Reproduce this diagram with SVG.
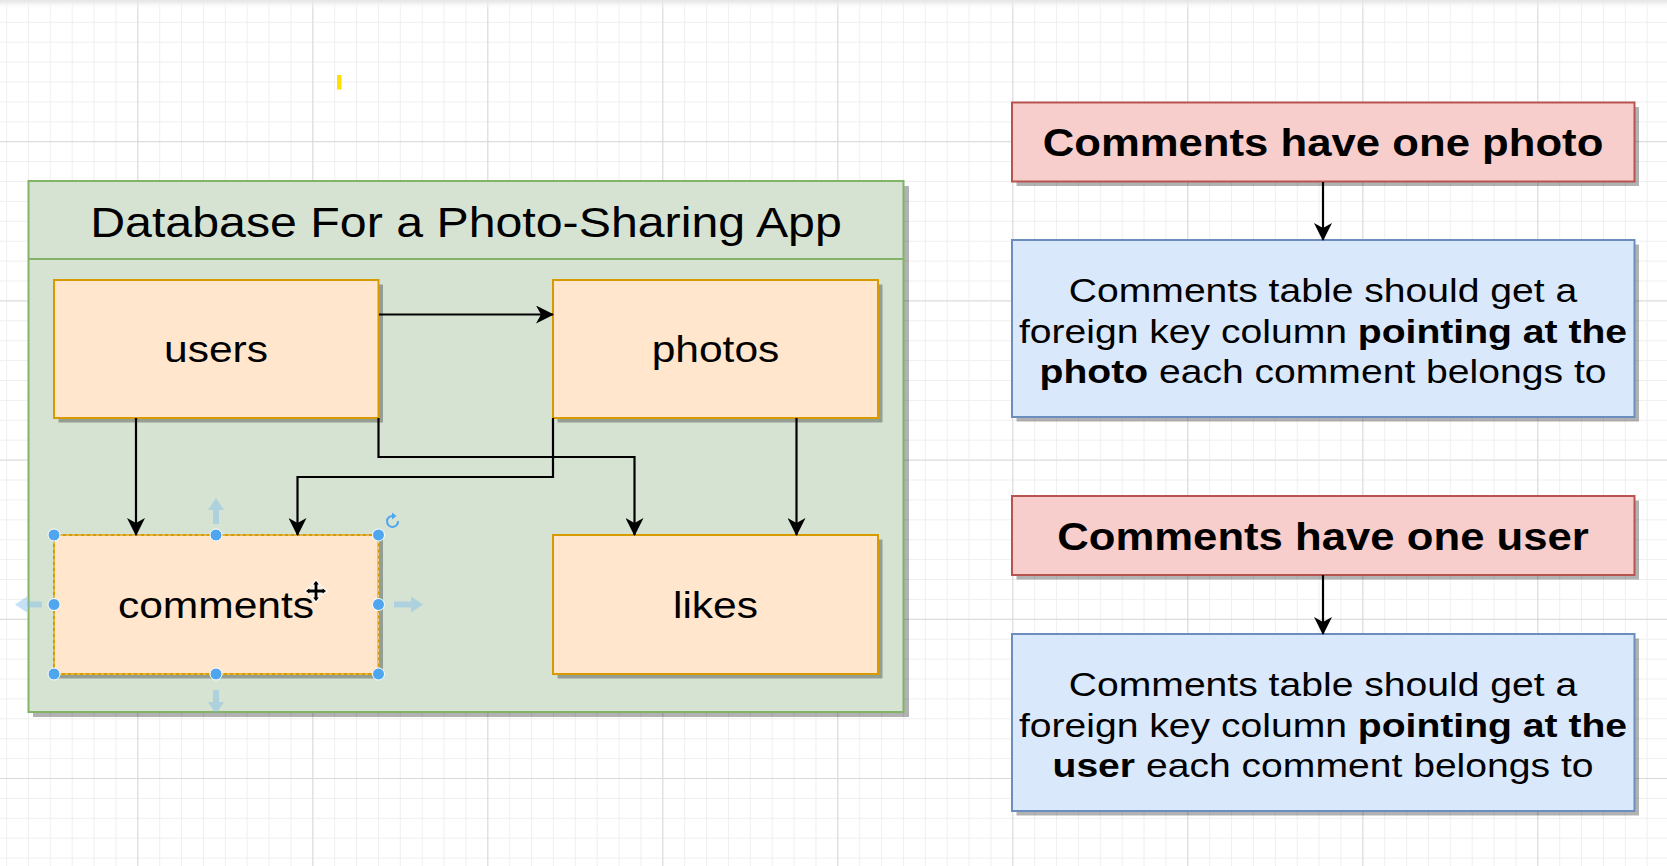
<svg xmlns="http://www.w3.org/2000/svg" width="1667" height="866" viewBox="0 0 1667 866">
<defs>
<style>
.lbl{font-family:"Liberation Sans",Arial,Helvetica,sans-serif;fill:#000;text-anchor:middle}
.tbl{fill:#ffe6cc;stroke:#d79b00;stroke-width:2}
.shadow{fill:#000;fill-opacity:0.3}
.red{fill:#f8cecc;stroke:#b85450;stroke-width:2}
.blue{fill:#dae8fc;stroke:#6c8ebf;stroke-width:2}
.conn{fill:none;stroke:#000;stroke-width:2.2;marker-end:url(#arr)}
.handle{fill:#4fa6ee;stroke:#fff;stroke-width:1}
.hover{fill:#7fbde8;fill-opacity:0.45}
</style>
<marker id="arr" viewBox="0 0 18 18" refX="17" refY="9" markerWidth="19" markerHeight="18" markerUnits="userSpaceOnUse" orient="auto">
<path d="M0,0 L18,9 L0,18 L5,9 Z" fill="#000"/>
</marker>
<pattern id="gMinor" width="21.875" height="19.9" patternUnits="userSpaceOnUse" x="6.05" y="1.9">
<path d="M0.5,0 V19.9 M0,0.5 H21.875" stroke="#efefef" stroke-width="1" fill="none"/>
</pattern>
<pattern id="gMajor" width="175" height="159.2" patternUnits="userSpaceOnUse" x="137.3" y="141.2">
<path d="M0.5,0 V159.2 M0,0.5 H175" stroke="#d9d9d9" stroke-width="1" fill="none"/>
</pattern>
<linearGradient id="topShade" x1="0" y1="0" x2="0" y2="1">
<stop offset="0" stop-color="#e4e4e4"/>
<stop offset="1" stop-color="#ffffff" stop-opacity="0"/>
</linearGradient>
</defs>

<rect width="1667" height="866" fill="#ffffff"/>
<rect width="1667" height="866" fill="url(#gMinor)"/>
<rect width="1667" height="866" fill="url(#gMajor)"/>
<rect width="1667" height="10" fill="url(#topShade)"/>
<rect x="337" y="75" width="4.5" height="14.5" fill="#ffe000"/>

<g id="container">
<rect x="33" y="186" width="876" height="531" class="shadow"/>
<rect x="28.5" y="181" width="875" height="531" fill="#d6e3d3" stroke="#82b366" stroke-width="2"/>
<line x1="28.5" y1="259" x2="903.5" y2="259" stroke="#82b366" stroke-width="2"/>
<text class="lbl" font-size="42" transform="translate(466,237) scale(1.15,1)">Database For a Photo-Sharing App</text>
</g>

<g id="users">
<rect x="58.5" y="284.5" width="324.5" height="138" class="shadow"/>
<rect x="54" y="280" width="324.5" height="138" class="tbl"/>
<text class="lbl" font-size="37" transform="translate(216,362) scale(1.15,1)">users</text>
</g>

<g id="photos">
<rect x="557.5" y="284.5" width="325" height="138" class="shadow"/>
<rect x="553" y="280" width="325" height="138" class="tbl"/>
<text class="lbl" font-size="37" transform="translate(715.5,362) scale(1.15,1)">photos</text>
</g>

<g id="comments">
<rect x="58.5" y="539.5" width="324.5" height="139" class="shadow"/>
<rect x="54" y="535" width="324.5" height="139" class="tbl"/>
<rect x="54" y="535" width="324.5" height="139" fill="none" stroke="#ffffff" stroke-opacity="0.55" stroke-width="1" stroke-dasharray="3,3"/>
<text class="lbl" font-size="37" transform="translate(216,618) scale(1.15,1)">comments</text>
</g>

<g id="likes">
<rect x="557.5" y="539.5" width="325" height="139" class="shadow"/>
<rect x="553" y="535" width="325" height="139" class="tbl"/>
<text class="lbl" font-size="37" transform="translate(715.5,618) scale(1.15,1)">likes</text>
</g>

<g id="rule-photo">
<rect x="1016.5" y="107" width="622.5" height="79" class="shadow"/>
<rect x="1012" y="102.5" width="622.5" height="79" class="red"/>
<text class="lbl" font-size="38" font-weight="bold" transform="translate(1323,155.5) scale(1.15,1)">Comments have one photo</text>
</g>

<g id="fk-photo">
<rect x="1016.5" y="244.5" width="622.5" height="177" class="shadow"/>
<rect x="1012" y="240" width="622.5" height="177" class="blue"/>
<text class="lbl" font-size="34" transform="translate(1323,302) scale(1.15,1)">Comments table should get a</text>
<text class="lbl" font-size="34" transform="translate(1323,342.5) scale(1.15,1)">foreign key column <tspan font-weight="bold">pointing at the</tspan></text>
<text class="lbl" font-size="34" transform="translate(1323,383) scale(1.15,1)"><tspan font-weight="bold">photo</tspan> each comment belongs to</text>
</g>

<g id="rule-user">
<rect x="1016.5" y="500.5" width="622.5" height="79" class="shadow"/>
<rect x="1012" y="496" width="622.5" height="79" class="red"/>
<text class="lbl" font-size="38" font-weight="bold" transform="translate(1323,549.5) scale(1.15,1)">Comments have one user</text>
</g>

<g id="fk-user">
<rect x="1016.5" y="638.5" width="622.5" height="177" class="shadow"/>
<rect x="1012" y="634" width="622.5" height="177" class="blue"/>
<text class="lbl" font-size="34" transform="translate(1323,696) scale(1.15,1)">Comments table should get a</text>
<text class="lbl" font-size="34" transform="translate(1323,736.5) scale(1.15,1)">foreign key column <tspan font-weight="bold">pointing at the</tspan></text>
<text class="lbl" font-size="34" transform="translate(1323,777) scale(1.15,1)"><tspan font-weight="bold">user</tspan> each comment belongs to</text>
</g>

<g id="connectors">
<path class="conn" d="M379,314.5 H553"/>
<path class="conn" d="M136,418 V535"/>
<path class="conn" d="M378.5,418 V457 H634.5 V535"/>
<path class="conn" d="M553,418 V477 H297.5 V535"/>
<path class="conn" d="M796.5,418 V535"/>
<path class="conn" d="M1323,182 V240"/>
<path class="conn" d="M1323,575 V634"/>
</g>

<g id="selection-handles">
<path class="hover" d="M216,498 L224,510 L219,510 L219,524 L213,524 L213,510 L208,510 Z"/>
<path class="hover" d="M216,714 L224,702 L219,702 L219,690 L213,690 L213,702 L208,702 Z"/>
<path class="hover" d="M15,604.5 L27,596.5 L27,601.5 L42,601.5 L42,607.5 L27,607.5 L27,612.5 Z"/>
<path class="hover" d="M423,604.5 L411,596.5 L411,601.5 L394,601.5 L394,607.5 L411,607.5 L411,612.5 Z"/>
<circle class="handle" cx="54" cy="535" r="6"/>
<circle class="handle" cx="216" cy="535" r="6"/>
<circle class="handle" cx="378.5" cy="535" r="6"/>
<circle class="handle" cx="54" cy="604.5" r="6"/>
<circle class="handle" cx="378.5" cy="604.5" r="6"/>
<circle class="handle" cx="54" cy="674" r="6"/>
<circle class="handle" cx="216" cy="674" r="6"/>
<circle class="handle" cx="378.5" cy="674" r="6"/>
<path d="M398,521 A5.5,5.5 0 1 1 393,516" fill="none" stroke="#4fa6ee" stroke-width="2"/>
<path d="M392,512.5 L396.5,516 L392,519.5 Z" fill="#4fa6ee"/>
<path d="M316,580 L320,585 L318,585 L318,589 L322,589 L322,587 L327,591 L322,595 L322,593 L318,593 L318,597 L320,597 L316,602 L312,597 L314,597 L314,593 L310,593 L310,595 L305,591 L310,587 L310,589 L314,589 L314,585 L312,585 Z" fill="#000" stroke="#fff" stroke-width="1.2"/>
</g>
</svg>
